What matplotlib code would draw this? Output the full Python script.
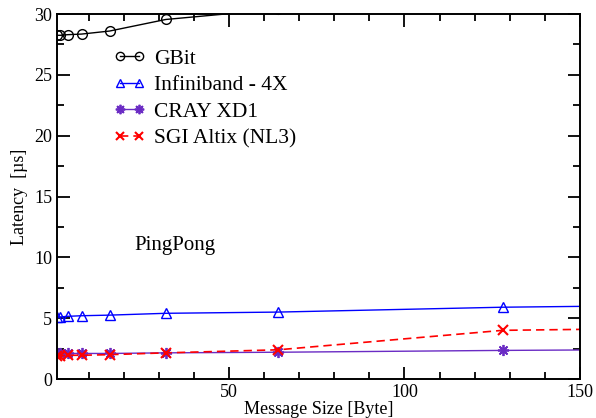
import numpy as np
import matplotlib
matplotlib.use('Agg')
import matplotlib.pyplot as plt

plt.rcParams['font.family'] = ['Liberation Serif', 'DejaVu Serif']

# message sizes [Byte]
sizes = [1, 2, 4, 8, 16, 32, 64, 128, 256]

# latency [us]
gbit = [28.25, 28.25, 28.3, 28.35, 28.6, 29.55, 30.4, 31.0, 33.0]
infiniband = [5.1, 5.1, 5.15, 5.2, 5.25, 5.4, 5.5, 5.9, 6.3]
cray = [2.1, 2.1, 2.1, 2.1, 2.1, 2.15, 2.2, 2.35, 2.55]
sgi = [1.9, 1.9, 1.95, 1.95, 2.0, 2.15, 2.4, 4.0, 4.45]

fig = plt.figure(figsize=(5.96, 4.18), dpi=100)
ax = fig.add_axes([0.0956, 0.0933, 0.8774, 0.8732])

ax.plot(sizes, gbit, color='black', lw=1, marker='o', mfc='none', ms=7, label='GBit')
ax.plot(sizes, infiniband, color='blue', lw=1, marker='^', mfc='none', ms=7, label='Infiniband - 4X')
ax.plot(sizes, cray, color='#6a2bc4', lw=1, marker=(8, 2, 0), ms=8, mew=1.3, label='CRAY XD1')
ax.plot(sizes, sgi, color='red', lw=1.2, ls=(0, (5, 3)), marker='x', ms=7, mew=1.5,
        label='SGI Altix (NL3)')

ax.set_xlim(1, 150)
ax.set_ylim(0, 30)
ax.set_xticks([50, 100, 150])
ax.set_xticks(np.arange(10, 150, 10), minor=True)
ax.set_yticks(np.arange(0, 31, 5))
ax.set_yticks(np.arange(2.5, 30, 2.5), minor=True)
ax.tick_params(which='both', direction='in', top=True, right=True, labelsize=13)
ax.tick_params(which='major', length=9, width=1.3)
ax.tick_params(which='minor', length=5, width=1.3)
for s in ax.spines.values():
    s.set_linewidth(1.4)

ax.set_xlabel('Message Size [Byte]', fontsize=13, labelpad=0)
ax.set_ylabel('Latency  [\u00b5s]', fontsize=13, labelpad=4)
ax.text(23, 10.6, 'PingPong', fontsize=15)

ax.legend(loc='upper left', bbox_to_anchor=(0.108, 0.905), frameon=False, fontsize=15.5,
          handlelength=1.5, handletextpad=0.4, labelspacing=0.3, numpoints=2,
          borderaxespad=0, borderpad=0, markerscale=0.85)

fig.savefig('out.png', dpi=100)
